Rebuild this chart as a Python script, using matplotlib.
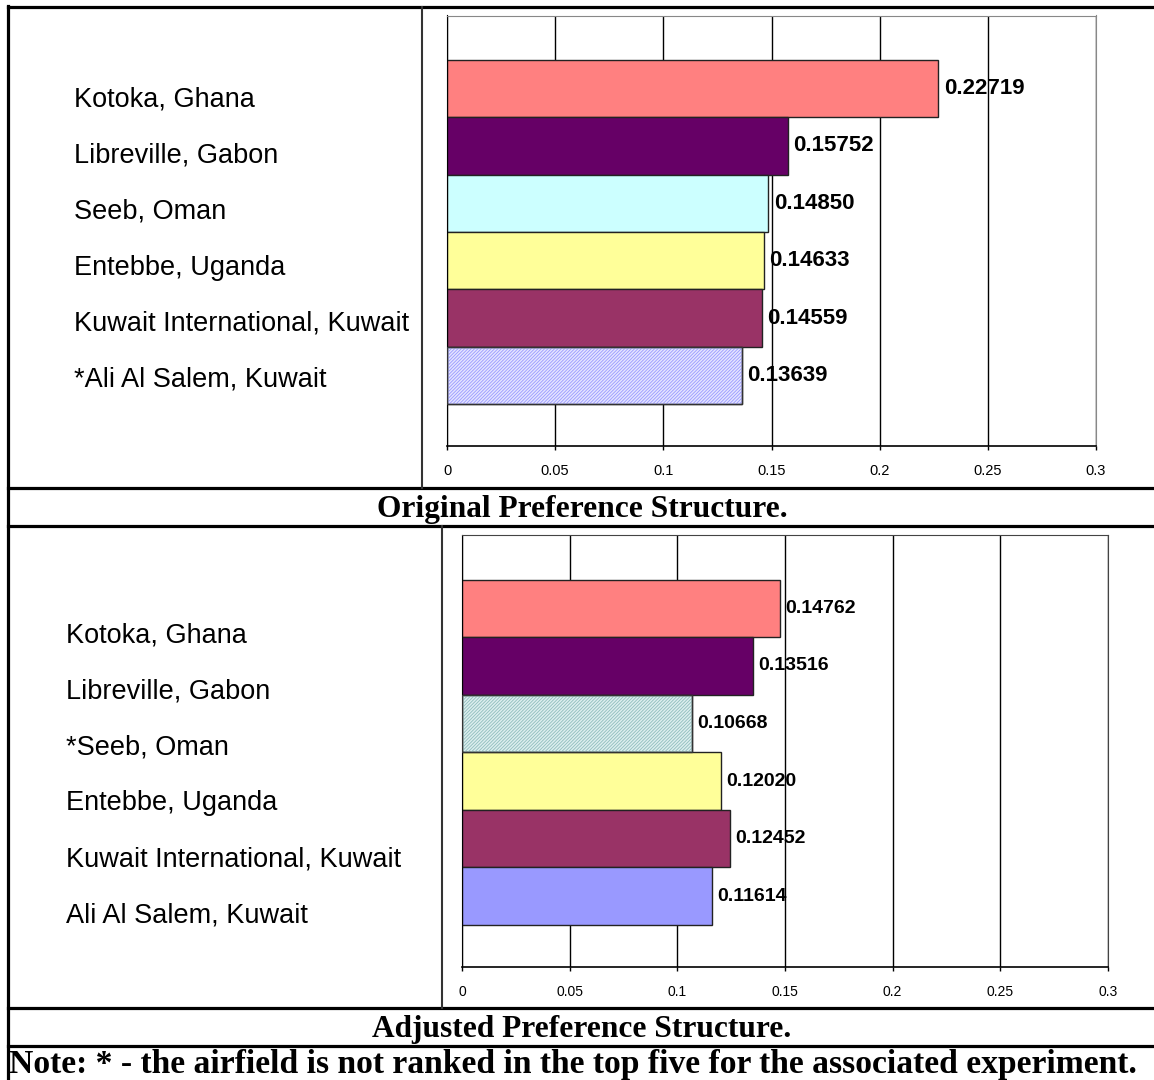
import matplotlib
matplotlib.use("Agg")
import matplotlib.pyplot as plt
from matplotlib.lines import Line2D

airfields_orig = ["Kotoka, Ghana", "Libreville, Gabon", "Seeb, Oman", "Entebbe, Uganda",
                  "Kuwait International, Kuwait", "*Ali Al Salem, Kuwait"]
values_orig = [0.22719, 0.15752, 0.14850, 0.14633, 0.14559, 0.13639]
airfields_adj = ["Kotoka, Ghana", "Libreville, Gabon", "*Seeb, Oman", "Entebbe, Uganda",
                 "Kuwait International, Kuwait", "Ali Al Salem, Kuwait"]
values_adj = [0.14762, 0.13516, 0.10668, 0.12020, 0.12452, 0.11614]
xticks = [0, 0.05, 0.1, 0.15, 0.2, 0.25, 0.3]
xtick_labels = ["0", "0.05", "0.1", "0.15", "0.2", "0.25", "0.3"]
title_orig = "Original Preference Structure."
title_adj = "Adjusted Preference Structure."
note = "Note: * - the airfield is not ranked in the top five for the associated experiment."

colors_orig = ["#FF8080", "#660066", "#CCFFFF", "#FFFF99", "#993366", "#E4E4FF"]
hatch_orig = [None, None, None, None, None, "#9999FF"]
colors_adj = ["#FF8080", "#660066", "#DCEEEE", "#FFFF99", "#993366", "#9999FF"]
hatch_adj = [None, None, "#8FBDBD", None, None, None]

W, H = 1154, 1080
fig = plt.figure(figsize=(W / 100, H / 100), dpi=100)
plt.rcParams['hatch.linewidth'] = 0.6

NARROW = ['Liberation Sans Narrow', 'Liberation Sans', 'DejaVu Sans']
SANS = ['Liberation Sans', 'DejaVu Sans']
SERIF = ['Liberation Serif', 'DejaVu Serif']


def fx(px):
    return px / W


def fy(py):
    return 1 - py / H


def make_chart(rect, names, vals, colors, hatches, label_x, label_y0, spine_col,
               val_size, tick_size):
    l, t, r, b = rect
    ax = fig.add_axes([fx(l), fy(b), fx(r - l), (b - t) / H])
    pos = list(range(len(vals)))
    ax.barh(pos, vals, height=1.0, color=colors, edgecolor="#222222", linewidth=1.0, zorder=2)
    for p, v, hc in zip(pos, vals, hatches):
        if hc:
            ax.barh([p], [v], height=1.0, color="none", edgecolor=hc, hatch="//////////",
                    linewidth=0, zorder=3)
            ax.barh([p], [v], height=1.0, color="none", edgecolor="#333333",
                    linewidth=1.0, zorder=4)
    for p, v in zip(pos, vals):
        ax.annotate(f"{v:.5f}", (v, p), xytext=(4.0, 0), textcoords="offset points",
                    va="center", ha="left", fontsize=val_size, fontweight="bold",
                    family=NARROW, zorder=5)
    ax.set_xlim(0, 0.3)
    ax.set_ylim(5.5 + 0.73, -0.5 - 0.774)
    ax.set_xticks(xticks)
    ax.set_xticklabels(xtick_labels, family=NARROW, fontsize=tick_size)
    ax.set_yticks([])
    ax.tick_params(axis="x", direction="out", length=3, width=1, pad=10, colors="black")
    ax.grid(axis="x", color="black", linewidth=1.0, zorder=0)
    ax.set_axisbelow(True)
    ax.spines["left"].set_color("black")
    ax.spines["bottom"].set_color("black")
    ax.spines["bottom"].set_linewidth(1.2)
    ax.spines["top"].set_color(spine_col)
    ax.spines["right"].set_color(spine_col)
    for i, n in enumerate(names):
        fig.text(fx(label_x), fy(label_y0 + 56 * i), n, family=SANS, fontsize=19.5,
                 ha="left", va="center")
    return ax


make_chart((447, 15.5, 1096, 446), airfields_orig, values_orig, colors_orig, hatch_orig,
           74, 100, "#888888", 16, 10.5)
make_chart((462, 535, 1108, 967), airfields_adj, values_adj, colors_adj, hatch_adj,
           66, 635, "#444444", 14, 10)

# table borders
def hline(y, x0=8, x1=W, lw=2.3, c="black"):
    fig.add_artist(Line2D([fx(x0), fx(x1)], [fy(y), fy(y)], color=c, lw=lw))


def vline(x, y0, y1, lw=1.5, c="#333333"):
    fig.add_artist(Line2D([fx(x), fx(x)], [fy(y0), fy(y1)], color=c, lw=lw))


hline(7)
hline(488)
hline(526)
hline(1008)
hline(1046)
vline(8, 6, 1080, lw=2.3, c="black")
vline(422, 7, 488)
vline(442, 526, 1008)

fig.text(fx(582), fy(510), title_orig, family=SERIF, fontweight="bold", fontsize=22.6,
         ha="center", va="center")
fig.text(fx(582), fy(1029), title_adj, family=SERIF, fontweight="bold", fontsize=22.6,
         ha="center", va="center")
fig.text(fx(9), fy(1064), note, family=SERIF, fontweight="bold", fontsize=24.2,
         ha="left", va="center")

fig.savefig("out.png", dpi=100)
